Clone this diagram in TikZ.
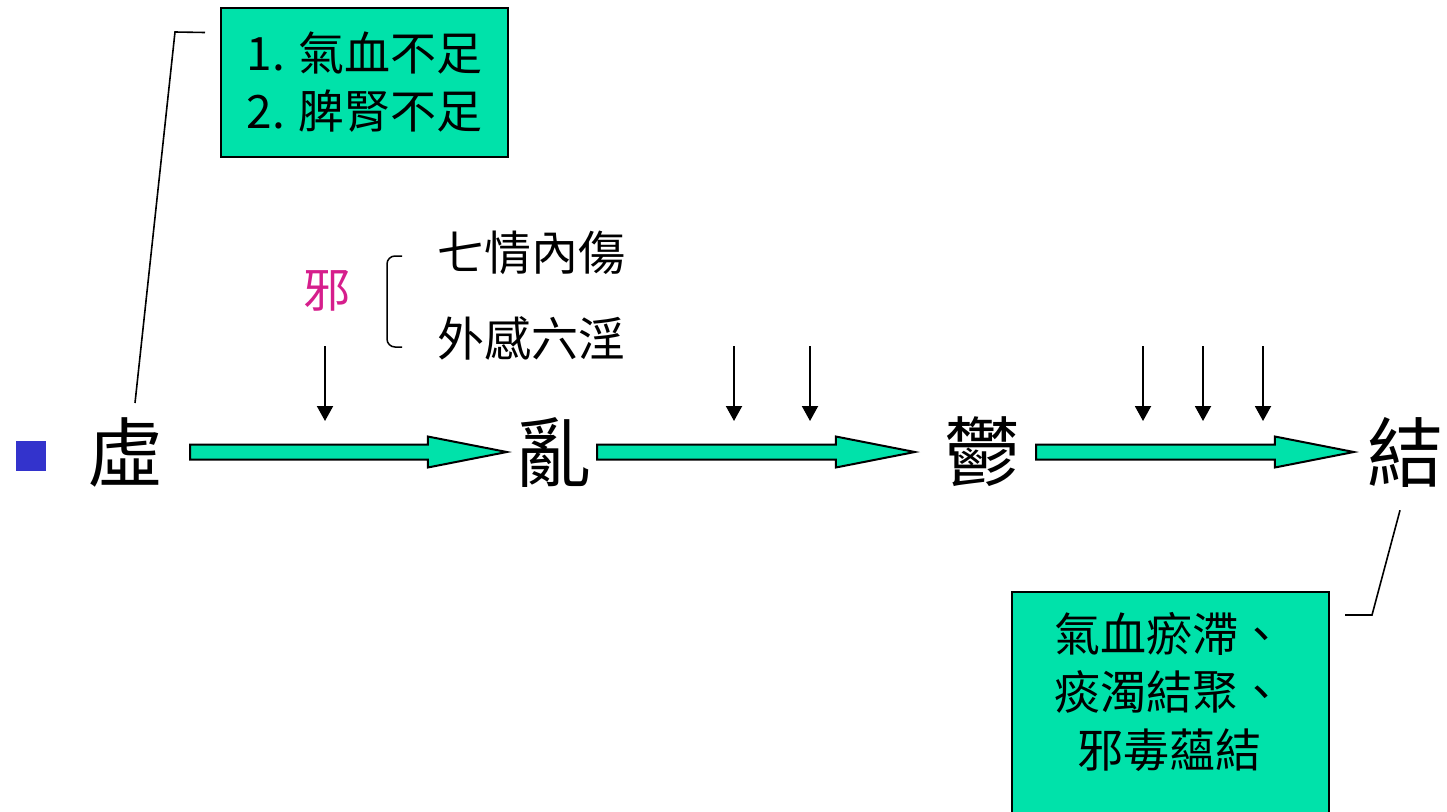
\documentclass[tikz,border=0pt]{standalone}
\usepackage{fontspec}
\setmainfont{Noto Sans CJK TC}
\usetikzlibrary{calc,arrows.meta}
\definecolor{boxgreen}{RGB}{0,226,170}
\definecolor{bulletblue}{RGB}{51,51,204}
\definecolor{xiepink}{RGB}{214,30,140}
\tikzset{
	mainchar/.style={inner sep=0pt, font=\fontsize{76}{80}\selectfont},
	sidetext/.style={inner sep=0pt, font=\fontsize{47}{50}\selectfont},
	greenbox/.style={draw=black, line width=2pt, fill=boxgreen, inner sep=0pt},
	boxtext/.style={inner sep=0pt, align=center, font=\fontsize{46}{58}\selectfont},
	blockarrow/.style={draw=black, line width=2pt, fill=boxgreen, line join=miter},
	downarrow/.style={line width=2pt, -{Triangle[length=15pt,width=16pt]}},
	leader/.style={line width=1.6pt}
}
\def\blockarrow#1#2{\path[blockarrow] let \p1=(#1), \p2=(#2) in
	(\x1,\y1+7.5pt) -- (\x2-79pt,\y1+7.5pt) -- (\x2-79pt,\y1+15.5pt) -- (\x2,\y1)
	-- (\x2-79pt,\y1-15.5pt) -- (\x2-79pt,\y1-7.5pt) -- (\x1,\y1-7.5pt) -- cycle;}

\begin{document}
\begin{tikzpicture}[x=1pt, y=-1pt]
			%%%%% START %%%%%
			
			\clip (0,0) rectangle (1447,811);
			\fill[white] (0,0) rectangle (1447,811);
			
			\fill[bulletblue] (16,441) rectangle (46,471);
			
			\node[mainchar] (xu) at (125,452) {虛};
			\node[mainchar] (luan) at (553,452) {亂};
			\node[mainchar] (yu) at (982,452) {鬱};
			\node[mainchar] (jie) at (1405,452) {結};
			
			\blockarrow{$(xu.east)+(27,0)$}{$(luan.west)+(-8,0)$}
			\blockarrow{$(luan.east)+(6,0)$}{$(yu.west)+(-29,0)$}
			\blockarrow{$(yu.east)+(16,0)$}{$(jie.west)+(-13,0)$}
			
			\foreach \ax in {325,734,810,1143,1203,1263}
				\draw[downarrow] (\ax,346) -- (\ax,421);
			
			\node[sidetext, text=xiepink] (xie) at (327,291) {邪};
			\draw[line width=1.5pt, rounded corners=8pt] (402,256) -- (387,256) -- (387,347) -- (402,347);
			\node[sidetext] (qiqing) at (531,253) {七情內傷};
			\node[sidetext] (waigan) at (531,338) {外感六淫};
			
			\node[greenbox, minimum width=287pt, minimum height=149pt, anchor=north west] (cause) at (220,7) {};
			\node[boxtext] (causetext) at (cause.center) {1. 氣血不足\\2. 脾腎不足};
			\draw[leader] ($(xu.north)+(10,-14)$) -- (175,32) -- ($(cause.west)+(-15,-50)$);
			
			\node[greenbox, minimum width=317pt, minimum height=240pt, anchor=north west] (effbox) at (1011,591) {};
			\node[boxtext] (efftext) at (1169,692) {氣血瘀滯、\\痰濁結聚、\\邪毒蘊結};
			\draw[leader] ($(jie.south)+(-5,23)$) -- (1372,615) -- ($(effbox.north east)+(15,24)$);
			
			%%%%% END %%%%%
\end{tikzpicture}
\end{document}
